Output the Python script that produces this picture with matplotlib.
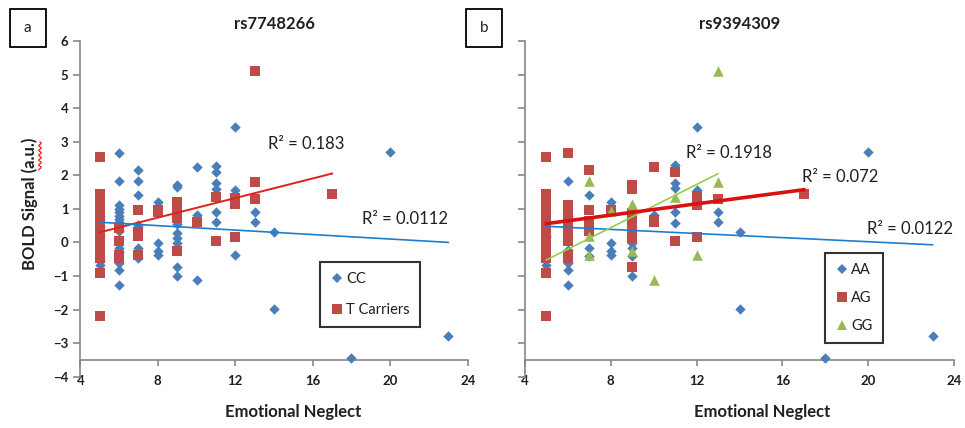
import matplotlib
matplotlib.use('Agg')
import matplotlib.pyplot as plt
from matplotlib.patches import Rectangle
from matplotlib.lines import Line2D
import numpy as np

plt.rcParams['font.family'] = ['Lato', 'DejaVu Sans']

# ── Data ──────────────────────────────────────────────────────────────────────
# panel a: rs7748266
cc_x = [5, 5, 5, 5, 5,
        6, 6, 6, 6, 6, 6, 6, 6, 6, 6, 6, 6, 6, 6, 6,
        7, 7, 7, 7, 7, 7, 7,
        8, 8, 8, 8,
        9, 9, 9, 9, 9, 9, 9, 9,
        10, 10, 10,
        11, 11, 11, 11, 11, 11,
        12, 12, 12,
        13, 13,
        14, 14, 18, 20, 23]
cc_y = [0.8, 0.5, 0.2, -0.55, -0.67,
        2.65, 1.84, 1.1, 1.0, 0.9, 0.8, 0.7, 0.6, 0.5, 0.35, -0.16, -0.3, -0.61, -0.81, -1.27,
        2.15, 1.84, 1.42, 0.53, 0.45, -0.17, -0.45,
        1.19, -0.02, -0.27, -0.37,
        1.72, 1.65, 0.55, 0.28, 0.13, -0.02, -0.72, -1.01,
        2.25, 0.83, -1.12,
        2.27, 2.1, 1.77, 1.6, 0.9, 0.6,
        3.44, 1.57, -0.37,
        0.9, 0.6,
        0.3, -1.98, -3.45, 2.7, -2.79]

x5_red = [2.55, 1.45, 1.35, 1.25, 1.15, 1.05, 0.95, 0.85, 0.75, 0.65, 0.55, 0.45,
          0.35, 0.25, 0.15, 0.05, -0.05, -0.15, -0.25, -0.35, -0.45, -0.9, -2.18]

tc_x = [5] * len(x5_red) + [6, 6, 6, 6, 7, 7, 7, 7, 8, 8,
                            9, 9, 9, 9, 9, 9, 9, 10, 11, 11, 12, 12, 12,
                            13, 13, 13, 17]
tc_y = x5_red + [0.43, 0.03, -0.37, -0.45, 0.96, 0.3, 0.2, -0.37, 0.96, 0.9,
                 1.2, 1.1, 1.0, 0.9, 0.8, 0.72, -0.27, 0.6, 1.35, 0.05, 1.33, 1.15, 0.15,
                 5.1, 1.79, 1.3, 1.45]

# panel b: rs9394309
aa_x = [5, 5, 5,
        6, 6, 6, 6, 6, 6,
        7, 7, 7,
        8, 8, 8, 8,
        9, 9, 9, 9,
        10,
        11, 11, 11, 11, 11,
        12, 12,
        13, 13,
        14, 14, 18, 20, 23]
aa_y = [0.5, 0.2, -0.67,
        1.84, 0.8, -0.22, -0.62, -0.81, -1.27,
        1.4, -0.17, -0.4,
        1.19, -0.02, -0.27, -0.37,
        -0.02, -0.17, -0.4, -1.01,
        0.83,
        2.3, 1.77, 1.62, 0.9, 0.58,
        3.44, 1.57,
        0.9, 0.6,
        0.3, -1.98, -3.45, 2.7, -2.79]

ag_x = [5] * len(x5_red) + [6] * 11 + [7] * 5 + [8] + [9] * 9 + [10] * 3 + \
       [11, 11, 12, 12, 12, 12, 13, 17]
ag_y = x5_red + [2.65, 1.1, 1.05, 0.75, 0.65, 0.58, 0.33, 0.15, 0.03, -0.37, -0.45,
                 2.15, 0.96, 0.63, 0.5, 0.35,
                 0.96,
                 1.7, 1.6, 0.88, 0.75, 0.6, 0.45, 0.3, 0.14, -0.72,
                 2.25, 0.68, 0.6,
                 2.1, 0.05, 1.37, 1.25, 1.12, 0.15, 1.3, 1.45]

gg_x = [7, 7, 7, 8, 9, 9, 10, 11, 12, 13, 13]
gg_y = [1.84, 0.2, -0.37, 0.95, 1.15, -0.27, -1.12, 1.34, -0.37, 5.1, 1.79]

# trendlines (slope, intercept, x range) and R² text as shown
trend_a = {'CC': (-0.0333, 0.767, 5, 23), 'T Carriers': (0.146, -0.43, 5, 17)}
trend_b = {'AA': (-0.0306, 0.633, 5, 23), 'AG': (0.0842, 0.139, 5, 17),
           'GG': (0.321, -2.126, 5, 13)}
r2_a = [('R² = 0.183', 13.7, 2.92), ('R² = 0.0112', 18.55, 0.71)]
r2_b = [('R² = 0.1918', 11.5, 2.67), ('R² = 0.072', 16.9, 1.94), ('R² = 0.0122', 19.95, 0.41)]

x_ticks = [4, 8, 12, 16, 20, 24]
y_ticks = [6, 5, 4, 3, 2, 1, 0, -1, -2, -3, -4]

BLUE = '#4A7EBB'
RED = '#BE4B48'
GREEN = '#98B954'
AXIS = '#868686'
TXT = '#1F1F1F'

W, H = 965, 428
fig = plt.figure(figsize=(W / 100, H / 100), dpi=100)


def px_axes(l, r, t, b):
    return fig.add_axes([l / W, 1 - b / H, (r - l) / W, (b - t) / H])


def style_axis(ax, show_ylabels):
    ax.set_xlim(4, 24)
    ax.set_ylim(-4, 6)
    for s in ['top', 'right']:
        ax.spines[s].set_visible(False)
    ax.spines['bottom'].set_position(('data', -3.5))
    for s in ['left', 'bottom']:
        ax.spines[s].set_color(AXIS)
        ax.spines[s].set_linewidth(1.2)
    ax.set_xticks(x_ticks)
    ax.set_yticks(y_ticks)
    ax.tick_params(axis='both', color=AXIS, length=5, width=1.2, direction='out',
                   labelsize=9.5, labelcolor=TXT)
    ax.tick_params(axis='x', pad=7, length=4)
    for lab in ax.get_xticklabels() + ax.get_yticklabels():
        lab.set_fontweight('bold')
    if not show_ylabels:
        ax.set_yticklabels([])


def trend(ax, coef, color, lw):
    m, c, x0, x1 = coef
    xs = np.array([x0, x1])
    ax.plot(xs, m * xs + c, color=color, lw=lw, zorder=5)


def legend_box(ax, handles, anchor, height_pad):
    leg = ax.legend(handles=handles, loc='upper left', bbox_to_anchor=anchor,
                    frameon=True, fancybox=False, fontsize=10.5, labelspacing=height_pad,
                    handlelength=0.9, handletextpad=0.2, borderpad=0.7,
                    borderaxespad=0)
    leg.get_frame().set_edgecolor('black')
    leg.get_frame().set_linewidth(1.5)
    for t in leg.get_texts():
        t.set_color(TXT)


# ── panel a ──
ax1 = px_axes(80.3, 467.7, 41, 376.7)
style_axis(ax1, True)
ax1.scatter(cc_x, cc_y, marker='D', s=28, color=BLUE, linewidths=0, zorder=3)
ax1.scatter(tc_x, tc_y, marker='s', s=55, color=RED, linewidths=0, zorder=4)
trend(ax1, trend_a['T Carriers'], '#E0211C', 1.4)
trend(ax1, trend_a['CC'], '#1C7ED0', 1.2)
for s, x, y in r2_a:
    ax1.text(x, y, s, fontsize=12, color=TXT, va='center', ha='left')
ax1.text(0.5, 1.05, 'rs7748266', transform=ax1.transAxes, fontsize=12,
         fontweight='bold', ha='center', va='center', color=TXT)
ax1.text(0.55, -0.104, 'Emotional Neglect', transform=ax1.transAxes, fontsize=12,
         fontweight='bold', ha='center', va='center', color=TXT)
h1 = [Line2D([], [], ls='', marker='D', ms=5, color=BLUE, mew=0, label='CC'),
      Line2D([], [], ls='', marker='s', ms=7.5, color=RED, mew=0, label='T Carriers')]
legend_box(ax1, h1, (0.619, 0.343), 1.2)

# ── panel b ──
ax2 = px_axes(525, 954, 41, 376.7)
style_axis(ax2, False)
ax2.scatter(aa_x, aa_y, marker='D', s=28, color=BLUE, linewidths=0, zorder=3)
ax2.scatter(ag_x, ag_y, marker='s', s=55, color=RED, linewidths=0, zorder=4)
ax2.scatter(gg_x, gg_y, marker='^', s=58, color=GREEN, linewidths=0, zorder=4.5)
trend(ax2, trend_b['AA'], '#1C7ED0', 1.2)
trend(ax2, trend_b['GG'], '#92D050', 1.2)
trend(ax2, trend_b['AG'], '#D9120F', 2.6)
for s, x, y in r2_b:
    ax2.text(x, y, s, fontsize=12, color=TXT, va='center', ha='left')
ax2.text(0.5, 1.05, 'rs9394309', transform=ax2.transAxes, fontsize=12,
         fontweight='bold', ha='center', va='center', color=TXT)
ax2.text(0.552, -0.104, 'Emotional Neglect', transform=ax2.transAxes, fontsize=12,
         fontweight='bold', ha='center', va='center', color=TXT)
h2 = [Line2D([], [], ls='', marker='D', ms=5, color=BLUE, mew=0, label='AA'),
      Line2D([], [], ls='', marker='s', ms=7.5, color=RED, mew=0, label='AG'),
      Line2D([], [], ls='', marker='^', ms=7.5, color=GREEN, mew=0, label='GG')]
legend_box(ax2, h2, (0.699, 0.368), 0.95)

# y label with the spell-check squiggle
fig.text(30 / W, 1 - 204 / H, 'BOLD Signal (a.u.)', rotation=90, fontsize=12,
         fontweight='bold', ha='center', va='center', color=TXT)
sq_y = np.linspace(142, 170, 40)
sq_x = 40 + 1.3 * np.sin((sq_y - 142) * 1.3)
fig.add_artist(Line2D(sq_x / W, 1 - sq_y / H, color='red', lw=0.8,
                      transform=fig.transFigure))

# panel letter boxes
for lab, left in [('a', 10), ('b', 466)]:
    fig.add_artist(Rectangle((left / W, 1 - 46.7 / H), 35.5 / W, 37.4 / H,
                             transform=fig.transFigure, fill=False,
                             edgecolor='black', lw=1.3))
    fig.text((left + 17.7) / W, 1 - 28 / H, lab, fontsize=11, ha='center',
             va='center', color=TXT)

fig.savefig('out.png', dpi=100, facecolor='white')
